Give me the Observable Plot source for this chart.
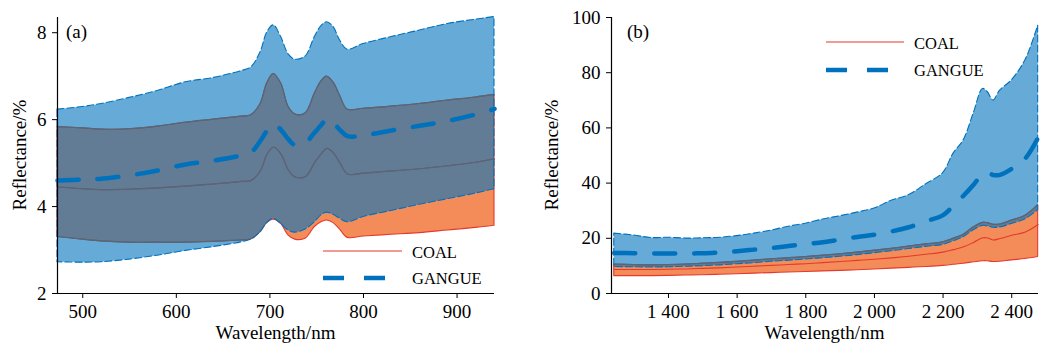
<!DOCTYPE html>
<html>
<head>
<meta charset="utf-8">
<script src="https://cdn.jsdelivr.net/npm/d3@7"></script>
<script src="https://cdn.jsdelivr.net/npm/@observablehq/plot@0.6"></script>
<style>
  html, body { margin: 0; padding: 0; background: #ffffff; }
  #wrap { position: relative; width: 1041px; height: 347px; overflow: hidden; background: #ffffff; }
  #pa, #pb { position: absolute; top: 0; }
  #pa { left: 0; }
  #pb { left: 520px; }
</style>
</head>
<body>
<div id="wrap"><div id="pa"></div><div id="pb"></div></div>
<script>
// ---------- Panel (a): visible range ----------
const waveA = [473, 500, 520, 550, 580, 610, 640, 670, 680, 690, 697, 704, 712, 720, 727, 738, 748, 755, 761, 768, 775, 783, 800, 830, 860, 890, 920, 940];
const coalMinA   = [3.30, 3.24, 3.20, 3.17, 3.17, 3.17, 3.19, 3.22, 3.24, 3.41, 3.62, 3.70, 3.60, 3.33, 3.24, 3.26, 3.53, 3.64, 3.68, 3.62, 3.47, 3.28, 3.31, 3.35, 3.39, 3.45, 3.51, 3.56];
const coalMeanA  = [4.45, 4.41, 4.39, 4.40, 4.43, 4.47, 4.52, 4.58, 4.60, 4.83, 5.21, 5.37, 5.20, 4.83, 4.68, 4.69, 5.02, 5.22, 5.34, 5.23, 5.00, 4.75, 4.77, 4.82, 4.87, 4.94, 5.02, 5.10];
const coalMaxA   = [5.83, 5.80, 5.77, 5.78, 5.84, 5.93, 6.00, 6.07, 6.10, 6.36, 6.83, 7.05, 6.83, 6.29, 6.12, 6.14, 6.60, 6.88, 6.99, 6.85, 6.55, 6.23, 6.25, 6.30, 6.36, 6.44, 6.51, 6.57];
const gangueMinA = [2.72, 2.71, 2.72, 2.78, 2.87, 2.98, 3.07, 3.18, 3.24, 3.41, 3.62, 3.72, 3.60, 3.45, 3.40, 3.47, 3.64, 3.80, 3.86, 3.81, 3.72, 3.64, 3.76, 3.90, 4.04, 4.17, 4.30, 4.40];
const gangueMeanA= [4.60, 4.62, 4.64, 4.72, 4.83, 4.97, 5.06, 5.18, 5.25, 5.52, 5.75, 5.90, 5.76, 5.54, 5.41, 5.47, 5.71, 5.88, 6.02, 5.92, 5.76, 5.62, 5.64, 5.75, 5.86, 5.97, 6.12, 6.25];
const gangueMaxA = [6.23, 6.29, 6.36, 6.50, 6.66, 6.86, 6.96, 7.12, 7.20, 7.55, 8.00, 8.17, 7.90, 7.50, 7.38, 7.45, 7.90, 8.15, 8.24, 8.13, 7.82, 7.61, 7.74, 7.90, 8.05, 8.20, 8.30, 8.36];
const xTicksA = [500, 600, 700, 800, 900];
const yTicksA = [2, 4, 6, 8];

// ---------- Panel (b): SWIR range ----------
const waveB = [1242, 1300, 1350, 1400, 1450, 1500, 1550, 1600, 1650, 1700, 1750, 1800, 1850, 1900, 1950, 2000, 2050, 2100, 2150, 2200, 2230, 2260, 2290, 2316, 2330, 2347, 2366, 2400, 2440, 2477];
const coalMinB   = [6.3, 6.3, 6.3, 6.4, 6.5, 6.6, 6.8, 7.0, 7.2, 7.4, 7.6, 7.8, 8.0, 8.2, 8.4, 8.7, 9.0, 9.3, 9.6, 10.0, 10.4, 10.8, 11.3, 11.7, 11.7, 11.4, 11.5, 12.0, 12.5, 13.2];
const coalMeanB  = [8.7, 8.7, 8.7, 8.8, 8.9, 9.1, 9.3, 9.6, 9.9, 10.2, 10.5, 10.8, 11.2, 11.6, 12.0, 12.4, 12.9, 13.5, 14.2, 15.0, 15.9, 16.9, 18.6, 20.2, 20.1, 19.4, 19.9, 21.1, 22.3, 25.0];
const coalMaxB   = [10.5, 10.3, 10.2, 10.3, 10.5, 10.8, 11.1, 11.5, 11.9, 12.4, 12.8, 13.2, 13.7, 14.2, 14.8, 15.5, 16.2, 17.0, 17.8, 18.5, 19.8, 21.3, 24.0, 25.6, 25.5, 24.9, 25.0, 26.4, 28.2, 32.0];
const gangueMinB = [9.6, 9.5, 9.4, 9.5, 9.7, 9.9, 10.2, 10.6, 11.0, 11.5, 11.9, 12.3, 12.8, 13.3, 13.9, 14.6, 15.3, 16.1, 16.9, 17.6, 18.9, 20.4, 23.0, 24.5, 24.3, 23.8, 23.9, 25.2, 26.9, 30.2];
const gangueMeanB= [14.7, 14.6, 14.5, 14.5, 14.5, 14.6, 14.8, 15.3, 15.9, 16.5, 17.2, 17.9, 18.6, 19.5, 20.5, 21.3, 22.5, 24.0, 26.2, 28.4, 31.8, 35.5, 39.6, 43.5, 43.8, 42.9, 43.0, 45.2, 49.0, 56.5];
const gangueMaxB = [21.7, 21.0, 20.1, 20.2, 19.9, 20.0, 20.2, 20.8, 21.7, 22.8, 24.2, 25.3, 26.8, 28.0, 29.3, 30.8, 33.6, 35.6, 39.5, 43.6, 50.6, 55.5, 65.5, 74.1, 73.0, 69.9, 73.5, 77.2, 84.5, 97.0];
const xTicksB = [1400, 1600, 1800, 2000, 2200, 2400];
const yTicksB = [0, 20, 40, 60, 80, 100];

const seriesNames = ["COAL", "GANGUE"];
const xLabel = "Wavelength/nm";
const yLabel = "Reflectance/%";

const FONT = "'Liberation Serif', 'Times New Roman', Times, serif";
const RED = "#e5392d";
const ORANGE = "#f38c59";
const BLUE = "#0072bd";
const OVERLAP_LINE = "#5d6571";

function rowsOf(w, cMin, cMean, cMax, gMin, gMean, gMax) {
  return w.map((x, i) => ({x, cMin: cMin[i], cMean: cMean[i], cMax: cMax[i], gMin: gMin[i], gMean: gMean[i], gMax: gMax[i]}));
}

function panel(opts) {
  const {rows, width, marginLeft, marginRight, xDomain, yDomain, xTicks, yTicks, tickFormat} = opts;
  const curve = "catmull-rom";
  const svg = Plot.plot({
    width, height: 347,
    marginLeft, marginRight, marginTop: 17, marginBottom: 54,
    style: {fontFamily: FONT, fontSize: "19px", color: "black", background: "transparent", overflow: "visible"},
    x: {domain: xDomain},
    y: {domain: yDomain},
    marks: [
      Plot.areaY(rows, {x: "x", y1: "cMin", y2: "cMax", fill: ORANGE, stroke: RED, strokeWidth: 1.1, curve}),
      Plot.lineY(rows, {x: "x", y: "cMean", stroke: RED, strokeWidth: 1.1, curve}),
      Plot.areaY(rows, {x: "x", y1: "gMin", y2: "gMax", fill: BLUE, fillOpacity: 0.6, curve}),
      Plot.areaY(rows, {x: "x", y1: "gMin", y2: "gMax", fill: "none", stroke: BLUE, strokeWidth: 1.1, strokeDasharray: "7,3", curve}),
      Plot.lineY(rows, {x: "x", y: "gMean", stroke: BLUE, strokeWidth: 4.5, strokeDasharray: "21,19", curve}),
      Plot.ruleX([xDomain[0]], {stroke: "black", strokeWidth: 1.2}),
      Plot.ruleY([yDomain[0]], {stroke: "black", strokeWidth: 1.2}),
      Plot.axisX(xTicks, {tickSize: 5, tickPadding: 6, label: null, tickFormat, stroke: "black", fill: "black"}),
      Plot.axisY(yTicks, {tickSize: 5, tickPadding: 6, label: null, stroke: "black", fill: "black"})
    ]
  });
  return svg;
}

// Coal outlines seen through the translucent gangue band look grey: redraw them clipped to the gangue band.
function greyOverlap(svg, id) {
  try {
    const groups = Array.from(svg.children).filter(n => n.tagName.toLowerCase() === "g");
    const bandG = groups[0], meanG = groups[1], fillG = groups[2];
    if (!fillG || !bandG || !meanG) return;
    const fillPath = fillG.querySelector("path");
    if (!fillPath) return;
    const ns = "http://www.w3.org/2000/svg";
    const defs = document.createElementNS(ns, "defs");
    const cp = document.createElementNS(ns, "clipPath");
    cp.setAttribute("id", id);
    const p = document.createElementNS(ns, "path");
    p.setAttribute("d", fillPath.getAttribute("d"));
    const tf = [fillG.getAttribute("transform"), fillPath.getAttribute("transform")].filter(Boolean).join(" ");
    if (tf) p.setAttribute("transform", tf);
    cp.appendChild(p);
    defs.appendChild(cp);
    svg.insertBefore(defs, svg.firstChild);
    const wrap = document.createElementNS(ns, "g");
    wrap.setAttribute("clip-path", `url(#${id})`);
    [bandG, meanG].forEach(g => {
      const c = g.cloneNode(true);
      c.setAttribute("fill", "none");
      c.setAttribute("stroke", OVERLAP_LINE);
      c.setAttribute("stroke-width", "1.2");
      c.removeAttribute("fill-opacity");
      c.querySelectorAll("path").forEach(q => {
        q.setAttribute("fill", "none");
        q.setAttribute("stroke", OVERLAP_LINE);
      });
      wrap.appendChild(c);
    });
    fillG.parentNode.insertBefore(wrap, fillG.nextSibling);
  } catch (e) {}
}

function addText(sel, txt, x, y, size, anchor, rotate) {
  const t = sel.append("text").text(txt)
    .attr("font-family", FONT).attr("font-size", size).attr("fill", "black")
    .attr("text-anchor", anchor || "start");
  if (rotate) t.attr("transform", `translate(${x},${y}) rotate(${rotate})`);
  else t.attr("x", x).attr("y", y);
  return t;
}

function addLegend(sel, x0, x1, yCoal, yGangue, textX) {
  sel.append("line").attr("x1", x0).attr("x2", x1).attr("y1", yCoal).attr("y2", yCoal)
    .attr("stroke", RED).attr("stroke-width", 1.2);
  addText(sel, seriesNames[0], textX, yCoal + 6.5, 16.5);
  sel.append("line").attr("x1", x0).attr("x2", x0 + 64).attr("y1", yGangue).attr("y2", yGangue)
    .attr("stroke", BLUE).attr("stroke-width", 4.5).attr("stroke-dasharray", "21,20");
  addText(sel, seriesNames[1], textX, yGangue + 6, 16.5);
}

const fmtB = d => d3.format(",")(d).replace(/,/g, " ");

// Panel (a)
const svgA = panel({
  rows: rowsOf(waveA, coalMinA, coalMeanA, coalMaxA, gangueMinA, gangueMeanA, gangueMaxA),
  width: 520, marginLeft: 57, marginRight: 26,
  xDomain: [473, 940], yDomain: [2, 8.35],
  xTicks: xTicksA, yTicks: yTicksA, tickFormat: d => String(d)
});
greyOverlap(svgA, "clipA");
document.getElementById("pa").appendChild(svgA);
{
  const s = d3.select(svgA);
  addText(s, "(a)", 66, 37.5, 19);
  addText(s, xLabel, 275.5, 339, 19, "middle");
  addText(s, yLabel, 26, 155, 19, "middle", -90);
  addLegend(s, 323, 402, 251, 278, 412);
}

// Panel (b)
const svgB = panel({
  rows: rowsOf(waveB, coalMinB, coalMeanB, coalMaxB, gangueMinB, gangueMeanB, gangueMaxB),
  width: 521, marginLeft: 91, marginRight: 3,
  xDomain: [1234, 2478], yDomain: [0, 100],
  xTicks: xTicksB, yTicks: yTicksB, tickFormat: fmtB
});
greyOverlap(svgB, "clipB");
document.getElementById("pb").appendChild(svgB);
{
  const s = d3.select(svgB);
  addText(s, "(b)", 107, 37.5, 19);
  addText(s, xLabel, 304.5, 339, 19, "middle");
  addText(s, yLabel, 38, 155, 19, "middle", -90);
  addLegend(s, 306, 384, 42, 70, 394);
}
</script>
</body>
</html>
